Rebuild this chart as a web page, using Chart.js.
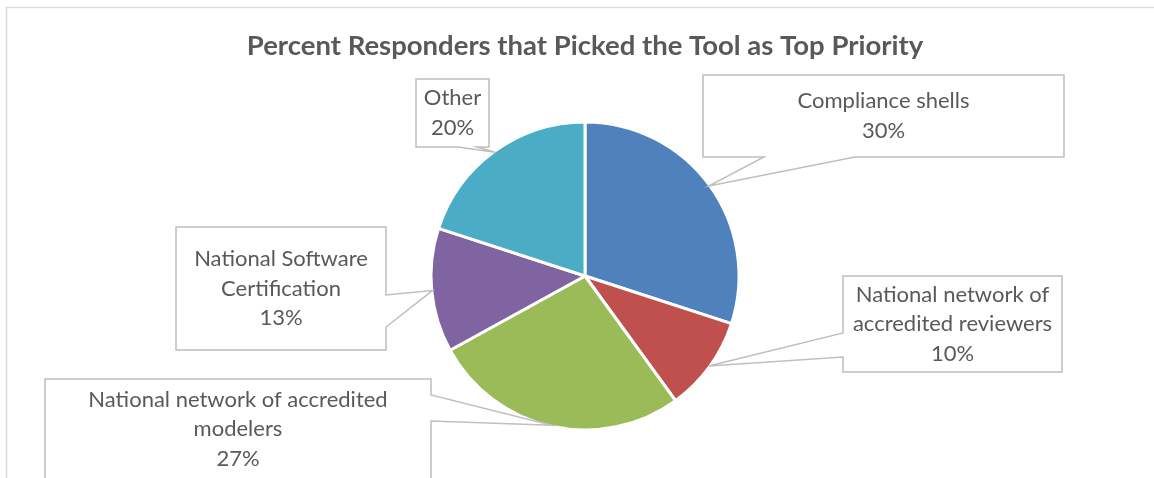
<!DOCTYPE html>
<html>
<head>
<meta charset="utf-8">
<title>Percent Responders that Picked the Tool as Top Priority</title>
<script src="https://cdn.jsdelivr.net/npm/chart.js@4/dist/chart.umd.min.js"></script>
<style>
  html, body { margin: 0; padding: 0; background: #fff; }
  #wrap { position: relative; width: 1154px; height: 478px; }
</style>
</head>
<body>
<div id="wrap"><canvas id="pieChart"></canvas></div>
<script>
var chartTitle = 'Percent Responders that Picked the Tool as Top Priority';
var categories = [
  'Compliance shells',
  'National network of accredited reviewers',
  'National network of accredited modelers',
  'National Software Certification',
  'Other'
];
var percentValues = [30, 10, 27, 13, 20];
var sliceColors = ['#4f81bd', '#c0504d', '#9bbb59', '#8064a2', '#4bacc6'];

// how each callout breaks its category name
var calloutLines = [
  ['Compliance shells'],
  ['National network of', 'accredited reviewers'],
  ['National network of accredited', 'modelers'],
  ['National Software', 'Certification'],
  ['Other']
];

// callout boxes; the tail leaves the box on `side` between a and b
var calloutBoxes = [
  { x: 703, y: 75, w: 361, h: 82, side: 'bottom', a: 764, b: 855 },
  { x: 843, y: 276, w: 219, h: 96, side: 'left', a: 333, b: 357 },
  { x: 45, y: 379, w: 386, h: 100, side: 'right', a: 395, b: 421 },
  { x: 176, y: 227, w: 210, h: 123, side: 'right', a: 295, b: 327 },
  { x: 416, y: 79, w: 73, h: 68, side: 'bottom', a: 458, b: 477 }
];

(function () {
  'use strict';

  var textColor = '#595959';
  var fontFamily = 'Lato, "Open Sans", sans-serif';

  function calloutPath(ctx, box, tip) {
    var r = box.x + box.w, btm = box.y + box.h;
    ctx.beginPath();
    ctx.moveTo(box.x, box.y);
    ctx.lineTo(r, box.y);
    if (box.side === 'right') { ctx.lineTo(r, box.a); ctx.lineTo(tip.x, tip.y); ctx.lineTo(r, box.b); }
    ctx.lineTo(r, btm);
    if (box.side === 'bottom') { ctx.lineTo(box.b, btm); ctx.lineTo(tip.x, tip.y); ctx.lineTo(box.a, btm); }
    ctx.lineTo(box.x, btm);
    if (box.side === 'left') { ctx.lineTo(box.x, box.b); ctx.lineTo(tip.x, tip.y); ctx.lineTo(box.x, box.a); }
    ctx.closePath();
  }

  var framePlugin = {
    id: 'frame',
    beforeDraw: function (chart) {
      var ctx = chart.ctx;
      ctx.save();
      ctx.fillStyle = '#fff';
      ctx.fillRect(0, 0, chart.width, chart.height);
      ctx.strokeStyle = '#d9d9d9';
      ctx.lineWidth = 1.5;
      ctx.strokeRect(6.5, 7.5, chart.width + 20, chart.height + 20);
      ctx.restore();
    }
  };

  var calloutPlugin = {
    id: 'callouts',
    afterDatasetsDraw: function (chart) {
      var ctx = chart.ctx;
      var arcs = chart.getDatasetMeta(0).data;
      ctx.save();
      arcs.forEach(function (arc, i) {
        var box = calloutBoxes[i];
        var mid = (arc.startAngle + arc.endAngle) / 2;
        var tip = {
          x: arc.x + Math.cos(mid) * (arc.outerRadius - 1),
          y: arc.y + Math.sin(mid) * (arc.outerRadius - 1)
        };
        calloutPath(ctx, box, tip);
        ctx.fillStyle = '#fff';
        ctx.fill();
        ctx.strokeStyle = '#bfbfbf';
        ctx.lineWidth = 1.5;
        ctx.lineJoin = 'miter';
        ctx.stroke();

        var lines = calloutLines[i].concat([percentValues[i] + '%']);
        var lineH = 29.5;
        var cx = box.x + box.w / 2;
        var top = box.y + box.h / 2 - (lines.length - 1) * lineH / 2;
        ctx.fillStyle = textColor;
        ctx.font = '22px ' + fontFamily;
        ctx.textAlign = 'center';
        ctx.textBaseline = 'middle';
        lines.forEach(function (t, j) { ctx.fillText(t, cx, top + j * lineH); });
      });
      ctx.restore();
    }
  };

  function initChart() {
    var canvas = document.getElementById('pieChart');
    if (!canvas || typeof Chart === 'undefined') return;

    new Chart(canvas.getContext('2d'), {
      type: 'pie',
      data: {
        labels: categories,
        datasets: [{
          data: percentValues,
          backgroundColor: sliceColors,
          borderColor: '#fff',
          borderWidth: 3,
          hoverOffset: 0,
          radius: 154
        }]
      },
      options: {
        responsive: true,
        maintainAspectRatio: false,
        animation: false,
        layout: { padding: { top: 0, bottom: 0, left: 16, right: 0 } },
        plugins: {
          legend: { display: false },
          tooltip: { enabled: false },
          title: {
            display: true,
            text: chartTitle,
            color: textColor,
            font: { family: fontFamily, size: 27.5, weight: 'bold' },
            padding: { top: 30, bottom: 11 }
          }
        }
      },
      plugins: [framePlugin, calloutPlugin]
    });
  }

  initChart();
})();
</script>
</body>
</html>
